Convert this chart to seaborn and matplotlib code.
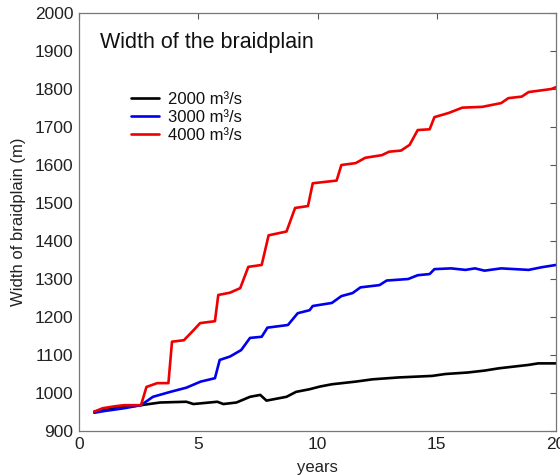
import matplotlib
matplotlib.use("Agg")
import matplotlib.pyplot as plt
import seaborn as sns
import pandas as pd

# ---- data ----
labels = ["2000 m³/s", "3000 m³/s", "4000 m³/s"]
colors = ["black", "#0000ee", "#ee0000"]

years_2000 = [0.64, 1.5, 2.6, 3.4, 4.5, 4.8, 5.8, 6.05, 6.6, 7.17, 7.6, 7.86, 8.7,
              9.1, 9.67, 10.1, 10.6, 11.6, 12.3, 13.4, 14.8, 15.36, 16.3, 17.0,
              17.6, 18.85, 19.25, 20.0]
width_2000 = [951, 960, 968, 975, 977, 971, 977, 971, 975, 990, 995, 980, 990,
              1003, 1010, 1017, 1023, 1030, 1036, 1041, 1045, 1050, 1054, 1059,
              1065, 1074, 1078, 1078]

years_3000 = [0.64, 1.0, 1.9, 2.6, 3.1, 3.83, 4.5, 5.1, 5.7, 5.9, 6.33, 6.8, 7.17,
              7.66, 7.9, 8.76, 9.17, 9.67, 9.8, 10.6, 11.0, 11.47, 11.8, 12.6,
              12.9, 13.8, 14.2, 14.7, 14.9, 15.6, 16.2, 16.6, 17.0, 17.7, 18.85,
              19.4, 20.0]
width_3000 = [948, 952, 960, 968, 990, 1003, 1014, 1030, 1039, 1087, 1096, 1113,
              1145, 1148, 1172, 1179, 1210, 1218, 1229, 1237, 1255, 1263, 1278,
              1284, 1296, 1300, 1310, 1313, 1326, 1328, 1324, 1328, 1322, 1328,
              1324, 1331, 1337]

years_4000 = [0.64, 1.0, 1.5, 1.9, 2.6, 2.83, 3.28, 3.75, 3.9, 4.4, 4.8, 5.08, 5.7,
              5.84, 6.33, 6.76, 7.1, 7.66, 7.95, 8.7, 9.06, 9.6, 9.8, 10.8, 11.0,
              11.6, 12.0, 12.7, 13.0, 13.5, 13.86, 14.2, 14.7, 14.9, 15.5, 16.07,
              16.9, 17.7, 18.0, 18.56, 18.85, 19.8, 20.0]
width_4000 = [951, 960, 965, 968, 968, 1016, 1026, 1026, 1135, 1139, 1165, 1184,
              1189, 1258, 1264, 1276, 1332, 1337, 1415, 1425, 1487, 1492, 1552,
              1559, 1600, 1605, 1619, 1626, 1635, 1638, 1653, 1692, 1694, 1726,
              1737, 1751, 1753, 1763, 1776, 1780, 1792, 1800, 1805]

x_ticks = [0, 5, 10, 15, 20]
y_ticks = list(range(900, 2001, 100))

# ---- build long table ----
frames = []
for lab, xs, ys in zip(labels,
                       [years_2000, years_3000, years_4000],
                       [width_2000, width_3000, width_4000]):
    frames.append(pd.DataFrame({"years": xs, "width": ys, "discharge": lab}))
df = pd.concat(frames, ignore_index=True)

sns.set_theme(style="white")
plt.rcParams["font.family"] = ["Liberation Sans", "DejaVu Sans"]

fig = plt.figure(figsize=(5.6, 4.75), dpi=100)
ax = fig.add_axes([0.141, 0.0926, 0.852, 0.88])

sns.lineplot(data=df, x="years", y="width", hue="discharge",
             palette=dict(zip(labels, colors)), hue_order=labels,
             estimator=None, sort=False, linewidth=1.9, ax=ax)

ax.set_xlim(0, 20)
ax.set_ylim(900, 2000)
ax.set_xticks(x_ticks)
ax.set_yticks(y_ticks)
ax.tick_params(direction="in", top=True, right=True, length=4, width=0.8,
               color="#555555", labelsize=12.5, labelcolor="#222222", pad=4)
for s in ax.spines.values():
    s.set_color("#777777")
    s.set_linewidth(0.9)

ax.set_xlabel("years", fontsize=12, color="#222222", labelpad=6)
ax.set_ylabel("Width of braidplain (m)", fontsize=12, color="#222222", labelpad=6)

ax.text(0.044, 0.955, "Width of the braidplain", transform=ax.transAxes,
        fontsize=15.5, va="top", ha="left", color="#111111")

leg = ax.legend(loc="upper left", bbox_to_anchor=(0.095, 0.828), frameon=False,
                fontsize=12, handlelength=1.7, handletextpad=0.55,
                labelspacing=0.18, borderaxespad=0)
for t in leg.get_texts():
    t.set_color("#111111")

fig.savefig("out.png", dpi=100)
